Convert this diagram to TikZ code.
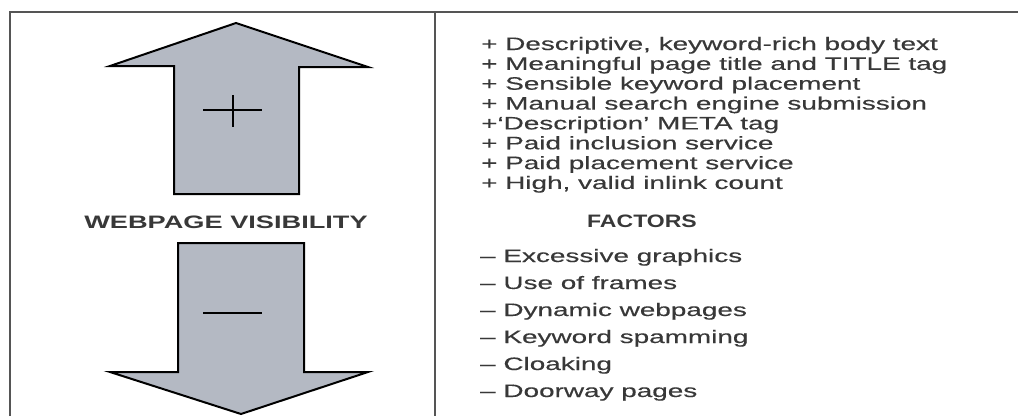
\documentclass[tikz,border=0pt]{standalone}
\usepackage{fontspec}
\usepackage{graphicx}
\setmainfont{Liberation Sans}
\newfontfamily\listfont[FakeBold=0.3]{Liberation Sans}
\newfontfamily\headfont{Liberation Sans Bold}
\definecolor{framegray}{HTML}{555555}
\definecolor{arrowfill}{HTML}{B4B9C3}
\definecolor{inkgray}{HTML}{383838}
\newcommand{\wide}[2][1.55]{\scalebox{#1}[1]{#2}}
\tikzset{
  framerule/.style={draw=framegray, line width=2pt},
  bigarrow/.style={draw=black, fill=arrowfill, line width=2pt, line join=miter},
  signline/.style={draw=black, line width=2pt},
  listline/.style={anchor=base west, inner sep=0pt, text=inkgray, font=\listfont\fontsize{18}{20}\selectfont},
  heading/.style={anchor=base, inner sep=0pt, text=inkgray, font=\headfont\fontsize{18}{20}\selectfont},
}
\begin{document}
\begin{tikzpicture}[x=1pt, y=-1pt]
  \useasboundingbox (0,0) rectangle (1018,416);
  % frame: top rule, left rule and column divider
  \coordinate (tl) at (10,12);
  \coordinate (tr) at (1018,12);
  \coordinate (bl) at (10,416);
  \coordinate (dt) at (435,12);
  \coordinate (db) at (435,416);
  \draw[framerule] (bl) -- (tl) -- (tr);
  \draw[framerule] (dt) -- (db);

  % upward arrow
  \draw[bigarrow] (236,23) -- (368,67) -- (299,67) -- (299,194) -- (174,194)
    -- (174,66) -- (110,66) -- cycle;
  \draw[signline] (203,110) -- (262,110);
  \draw[signline] (233,95) -- (233,127);

  % downward arrow
  \draw[bigarrow] (178,243) -- (304,243) -- (304,372) -- (368,372) -- (241,414)
    -- (110,372) -- (178,372) -- cycle;
  \draw[signline] (203,313) -- (262,313);

  % headings
  \node[heading] (vis) at (226,228) {\wide[1.51]{WEBPAGE VISIBILITY}};
  \node[heading] (fac) at (642,227) {\wide[1.28]{FACTORS}};

  % positive factors
  \foreach \t [count=\i from 0] in {
      {+ Descriptive, keyword-rich body text},
      {+ Meaningful page title and TITLE tag},
      {+ Sensible keyword placement},
      {+ Manual search engine submission},
      {+‘Description’ META tag},
      {+ Paid inclusion service},
      {+ Paid placement service},
      {+ High, valid inlink count}}
    \node[listline] (pos\i) at (481,{50+19.85*\i}) {\wide{\t}};

  % negative factors
  \foreach \t [count=\i from 0] in {
      {– Excessive graphics},
      {– Use of frames},
      {– Dynamic webpages},
      {– Keyword spamming},
      {– Cloaking},
      {– Doorway pages}}
    \node[listline] (neg\i) at (480,{262+27*\i}) {\wide{\t}};
\end{tikzpicture}
\end{document}
